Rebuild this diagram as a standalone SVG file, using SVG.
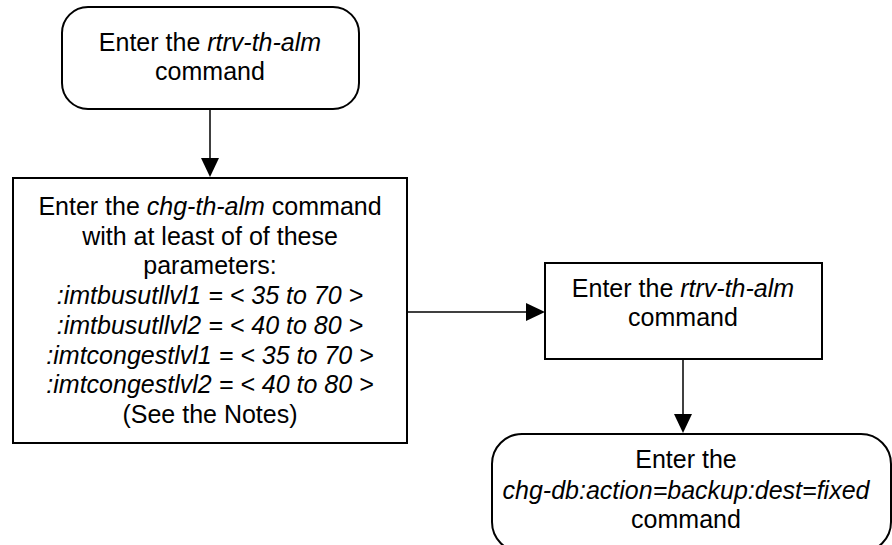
<svg xmlns="http://www.w3.org/2000/svg" width="892" height="545" viewBox="0 0 892 545">
<defs>
<style>
.box{fill:#fff;stroke:#000;stroke-width:2}
.t{font-family:"Liberation Sans",Arial,sans-serif;font-size:25px;fill:#000;text-anchor:middle}
.i{font-style:italic}
.c{stroke:#000;stroke-width:1.5;fill:none}
.h{fill:#000}
</style>
</defs>
<rect width="892" height="545" fill="#fff"/>
<g id="connectors">
<line class="c" x1="210" y1="109" x2="210" y2="160"/>
<path class="h" d="M201,158 L219,158 L210,177 z"/>
<line class="c" x1="407" y1="312" x2="528" y2="312"/>
<path class="h" d="M526,303 L545,312 L526,321 z"/>
<line class="c" x1="683" y1="359" x2="683" y2="416"/>
<path class="h" d="M674,414 L692,414 L683,433 z"/>
</g>
<g id="n1">
<rect class="box" x="62" y="7" width="297" height="102" rx="26"/>
<text class="t" x="210" y="51">Enter the <tspan class="i">rtrv-th-alm</tspan></text>
<text class="t" x="210" y="80">command</text>
</g>
<g id="n2">
<rect class="box" x="13" y="178" width="394" height="265"/>
<text class="t" x="210" y="215">Enter the <tspan class="i">chg-th-alm</tspan> command</text>
<text class="t" x="210" y="245">with at least of of these</text>
<text class="t" x="210" y="274">parameters:</text>
<text class="t i" x="210" y="304">:imtbusutllvl1 = &lt; 35 to 70 &gt;</text>
<text class="t i" x="210" y="334">:imtbusutllvl2 = &lt; 40 to 80 &gt;</text>
<text class="t i" x="210" y="364">:imtcongestlvl1 = &lt; 35 to 70 &gt;</text>
<text class="t i" x="210" y="393">:imtcongestlvl2 = &lt; 40 to 80 &gt;</text>
<text class="t" x="210" y="423">(See the Notes)</text>
</g>
<g id="n3">
<rect class="box" x="545" y="263" width="277" height="96"/>
<text class="t" x="683" y="297">Enter the <tspan class="i">rtrv-th-alm</tspan></text>
<text class="t" x="683" y="326">command</text>
</g>
<g id="n4">
<rect class="box" x="492" y="434" width="399" height="118" rx="30"/>
<text class="t" x="686" y="468">Enter the</text>
<text class="t i" x="686" y="499">chg-db:action=backup:dest=fixed</text>
<text class="t" x="686" y="528">command</text>
</g>
</svg>
